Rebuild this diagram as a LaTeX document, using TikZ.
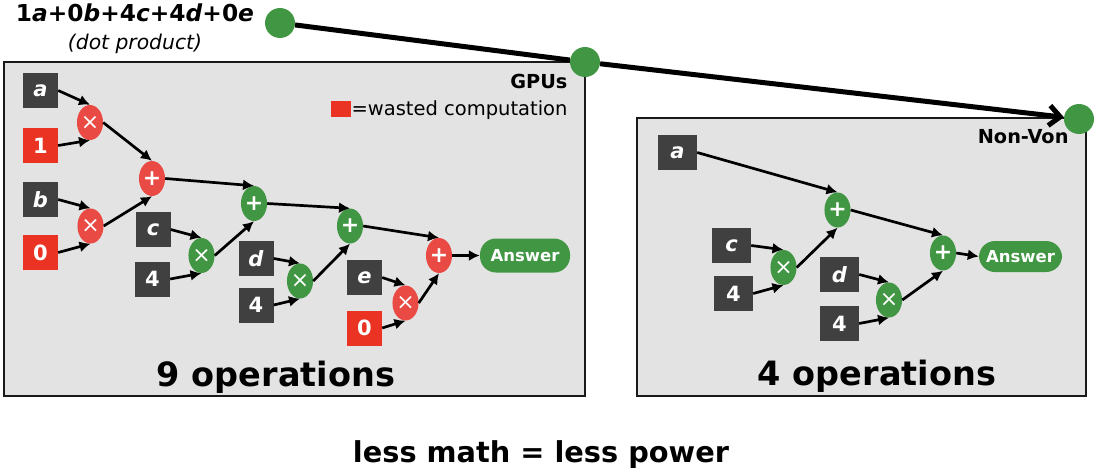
\documentclass[tikz,border=0pt]{standalone}
\usepackage{fontspec}
\setmainfont{DejaVu Sans}
\usetikzlibrary{arrows.meta,shapes.geometric}
\definecolor{opgreen}{RGB}{64,150,66}
\definecolor{boxred}{RGB}{234,51,35}
\definecolor{opred}{RGB}{233,74,68}
\definecolor{boxgrey}{RGB}{64,64,64}
\definecolor{panelgrey}{RGB}{227,227,227}
\begin{document}
\begin{tikzpicture}[x=1pt,y=-1pt,>={Latex[length=11pt,width=11pt]},
  panel/.style={draw=black!90,line width=2pt,fill=panelgrey},
  val/.style={fill=boxgrey,text=white,minimum width=35pt,minimum height=35pt,inner sep=0,
    font=\fontsize{21}{24}\selectfont\bfseries},
  op/.style={ellipse,fill=#1,text=white,minimum width=24pt,minimum height=35pt,inner sep=0,
    font=\fontsize{22}{24}\selectfont},
  ans/.style={rounded corners=16pt,fill=opgreen,text=white,minimum height=34pt,
    font=\fontsize{16.5}{20}\selectfont\bfseries},
  dot/.style={circle,fill=opgreen,minimum size=30pt,inner sep=0},
  wire/.style={->,black,line width=2.7pt},
  big/.style={font=\fontsize{33.5}{36}\selectfont\bfseries},
  tag/.style={font=\fontsize{19.3}{22}\selectfont\bfseries}]
  \useasboundingbox (0,0) rectangle (1100,474);
  \draw[panel] (4,62) rectangle (585,396);
  \draw[panel] (637,118) rectangle (1086,396);
  % inputs of both panels
  \foreach \n/\x/\y/\c/\t in {ga/40.5/90.5/boxgrey/\textit{a},g1/40.5/145.5/boxred/1,
      gb/40.5/199.5/boxgrey/\textit{b},g0/40.5/252.5/boxred/0,
      gc/153/229.5/boxgrey/\textit{c},gcw/152.5/279/boxgrey/4,
      gd/256/258.5/boxgrey/\textit{d},gdw/256/305/boxgrey/4,
      ge/364.5/277.5/boxgrey/\textit{e},gew/364.5/328/boxred/0}
    \node[val,fill=\c] (\n) at (\x,\y) {\t};
  \foreach \n/\x/\y/\t in {na/677.5/152.5/\textit{a},nc/731.5/245.5/\textit{c},
      ncw/733.5/293.5/4,nd/839.5/274.5/\textit{d},ndw/839.5/323.5/4}
    \node[val,minimum width=39pt] (\n) at (\x,\y) {\t};
  % operations
  \foreach \n/\x/\y/\c/\t in {gm1/90/122.5/opred/×,gm2/90.5/226/opred/×,
      gp1/152/178.5/opred/\textbf{+},gm3/201.5/255.5/opgreen/×,
      gp2/254/203.5/opgreen/\textbf{+},gm4/300/281/opgreen/×,
      gp3/350/226/opgreen/\textbf{+},gm5/405.5/303/opred/×,
      gp4/439/255.5/opred/\textbf{+},nm1/783.5/267.5/opgreen/×,
      np1/837.5/210/opgreen/\textbf{+},nm2/889/300/opgreen/×,
      np2/943/253/opgreen/\textbf{+}}
    \node[op=\c] (\n) at (\x,\y) {\t};
  \node[ans,minimum width=90pt] (gans) at (525,255.5) {Answer};
  \node[ans,minimum width=83pt,minimum height=31pt] (nans) at (1020.5,256.5) {Answer};
  \foreach \s/\t in {ga/gm1.north,g1/gm1.south,gb/gm2.north,g0/gm2.south,
      gm1/gp1.north,gm2/gp1.south,gp1/gp2.north,gc/gm3.north,gcw/gm3.south,
      gm3/gp2.south,gp2/gp3.north,gd/gm4.north,gdw/gm4.south,gm4/gp3.south,
      gp3/gp4.north,ge/gm5.north,gew/gm5.south,gm5/gp4.south,gp4/gans.west,
      na/np1.north,nc/nm1.north,ncw/nm1.south,nm1/np1.south,np1/np2.north,
      nd/nm2.north,ndw/nm2.south,nm2/np2.south,np2/nans.west}
    \draw[wire] (\s.east) -- (\t);
  % labels
  \node[anchor=base,font=\fontsize{23.3}{26}\selectfont\bfseries] (sum) at (135,21)
    {1\textit{a}+0\textit{b}+4\textit{c}+4\textit{d}+0\textit{e}};
  \node[anchor=base,font=\fontsize{20.3}{24}\selectfont\itshape] (dotp) at (135,49) {(dot product)};
  \node[tag,anchor=base east] (gpus) at (571,88) {GPUs};
  \node[fill=boxred,minimum width=20pt,minimum height=16pt,inner sep=0] (key) at (341,109) {};
  \node[anchor=base east,font=\fontsize{19.5}{22}\selectfont] (keytxt) at (571,115) {=wasted computation};
  \node[tag,anchor=base east] (nonvon) at (1072,143) {Non-Von};
  \node[big,anchor=base] (gops) at (276,386) {9 operations};
  \node[big,anchor=base] (nops) at (877,385) {4 operations};
  \node[anchor=base,font=\fontsize{28.8}{32}\selectfont\bfseries] (moral) at (541,462) {less math = less power};
  % the path of the data
  \node[dot] (d1) at (280,23) {};
  \node[dot] (d2) at (585,62) {};
  \node[dot] (d3) at (1079,119) {};
  \draw[line width=5pt,-{Straight Barb[length=11pt,width=20pt]}] (d1) -- (d2) -- (d3);
\end{tikzpicture}
\end{document}
